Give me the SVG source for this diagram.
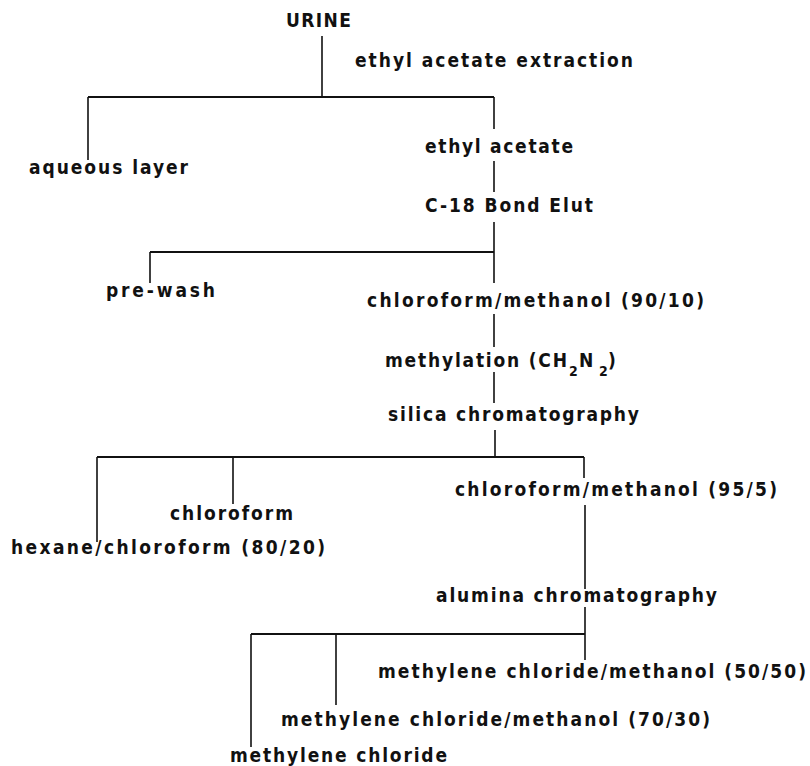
<svg xmlns="http://www.w3.org/2000/svg" width="810" height="766" viewBox="0 0 810 766">
  <style>
    text { font-family: "DejaVu Sans Condensed", "DejaVu Sans", "Liberation Sans", sans-serif; font-weight: bold; font-size: 19px; fill: #111; }
    .sub { font-size: 14px; }
    .link { stroke: #111; stroke-width: 1.6; fill: none; }
    .bar { stroke: #111; stroke-width: 2.2; fill: none; }
  </style>
  <rect width="810" height="766" fill="#fff"/>

  <!-- tree connectors -->
  <g id="connectors">
    <path class="link" d="M322 36 V97"/>
    <path class="bar" d="M88 97 H494"/>
    <path class="link" d="M88 97 V160"/>
    <path class="link" d="M494 97 V129"/>
    <path class="link" d="M494 161 V192"/>
    <path class="link" d="M494 222 V283"/>
    <path class="bar" d="M150 252 H494"/>
    <path class="link" d="M150 252 V283"/>
    <path class="link" d="M494 314 V347"/>
    <path class="link" d="M494 372 V403"/>
    <path class="link" d="M495 430 V457"/>
    <path class="bar" d="M97 457 H584"/>
    <path class="link" d="M97 457 V542"/>
    <path class="link" d="M233 457 V504"/>
    <path class="link" d="M584 457 V478"/>
    <path class="link" d="M585 505 V589"/>
    <path class="link" d="M585 607 V660"/>
    <path class="bar" d="M251 634 H585"/>
    <path class="link" d="M336 634 V705"/>
    <path class="link" d="M251 634 V747"/>
  </g>

  <g id="urine"><text x="286" y="27" textLength="65" lengthAdjust="spacing">URINE</text></g>
  <g id="extraction"><text x="355" y="67" textLength="278" lengthAdjust="spacing">ethyl acetate extraction</text></g>
  <g id="aqueous-layer"><text x="29" y="174" textLength="159" lengthAdjust="spacing">aqueous layer</text></g>
  <g id="ethyl-acetate"><text x="425" y="153" textLength="148" lengthAdjust="spacing">ethyl acetate</text></g>
  <g id="bond-elut"><text x="425" y="212" textLength="168" lengthAdjust="spacing">C-18 Bond Elut</text></g>
  <g id="pre-wash"><text x="106" y="297" textLength="109" lengthAdjust="spacing">pre-wash</text></g>
  <g id="chcl3-meoh-90-10"><text x="367" y="307" textLength="337" lengthAdjust="spacing">chloroform/methanol (90/10)</text></g>
  <g id="methylation">
    <text x="385" y="367"><tspan textLength="182" lengthAdjust="spacing">methylation (CH</tspan><tspan class="sub" x="569" y="376">2</tspan><tspan x="579" y="367">N</tspan><tspan class="sub" x="599" y="376">2</tspan><tspan x="608" y="367">)</tspan></text>
  </g>
  <g id="silica"><text x="388" y="421" textLength="251" lengthAdjust="spacing">silica chromatography</text></g>
  <g id="chcl3-meoh-95-5"><text x="455" y="496" textLength="322" lengthAdjust="spacing">chloroform/methanol (95/5)</text></g>
  <g id="chloroform"><text x="170" y="520" textLength="123" lengthAdjust="spacing">chloroform</text></g>
  <g id="hexane-chcl3"><text x="11" y="554" textLength="314" lengthAdjust="spacing">hexane/chloroform (80/20)</text></g>
  <g id="alumina"><text x="436" y="602" textLength="281" lengthAdjust="spacing">alumina chromatography</text></g>
  <g id="dcm-meoh-50-50"><text x="378" y="678" textLength="428" lengthAdjust="spacing">methylene chloride/methanol (50/50)</text></g>
  <g id="dcm-meoh-70-30"><text x="281" y="726" textLength="429" lengthAdjust="spacing">methylene chloride/methanol (70/30)</text></g>
  <g id="dcm"><text x="230" y="762" textLength="217" lengthAdjust="spacing">methylene chloride</text></g>
</svg>
